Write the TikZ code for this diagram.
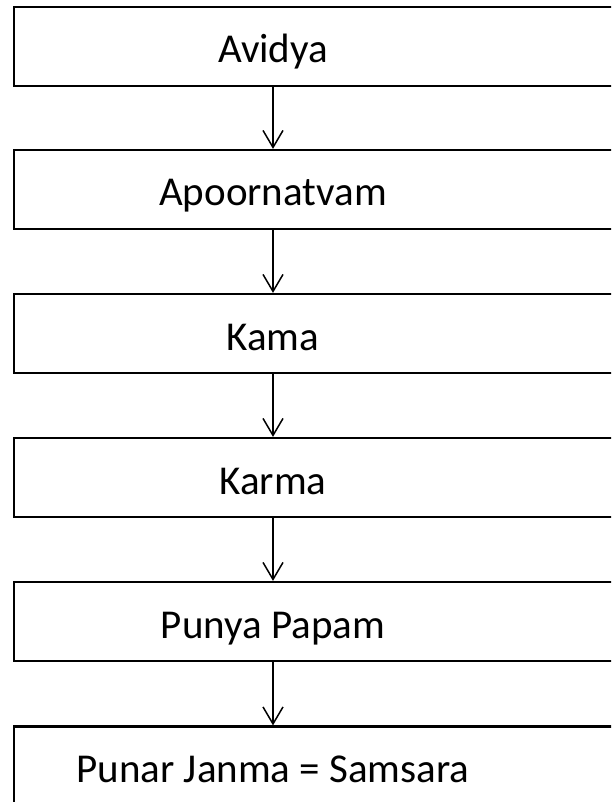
\documentclass[tikz,border=0pt]{standalone}
\usepackage{fontspec}
\setmainfont{Carlito}
\usetikzlibrary{arrows.meta}
\begin{document}
\begin{tikzpicture}[x=1pt,y=1pt,
  boxnode/.style={draw=black,line width=2.2pt,minimum width=602pt,minimum height=79pt,inner sep=0pt,anchor=center},
  lbl/.style={font=\fontsize{41}{49}\selectfont,inner sep=0pt,anchor=base},
  flow/.style={draw=black,line width=1.5pt,-{Straight Barb[length=17pt,width=20pt,line width=1.5pt]}}]
\useasboundingbox (0,0) rectangle (611,-802);
\begin{scope}
\clip (0,0) rectangle (611,-802);
\foreach \i/\y/\t in {1/46.5/Avidya,2/189.5/Apoornatvam,3/333.5/Kama,4/477.5/Karma,5/621.5/Punya Papam,6/766/Punar Janma = Samsara}{
  \node[boxnode] (b\i) at (315,-\y) {};
  \node[lbl] (t\i) at (273,-\y-16.5) {\t};
}
\end{scope}
\foreach \i/\j in {1/2,2/3,3/4,4/5,5/6}{
  \draw[flow] (b\i.south -| t\i) -- (b\j.north -| t\j);
}
\end{tikzpicture}
\end{document}
